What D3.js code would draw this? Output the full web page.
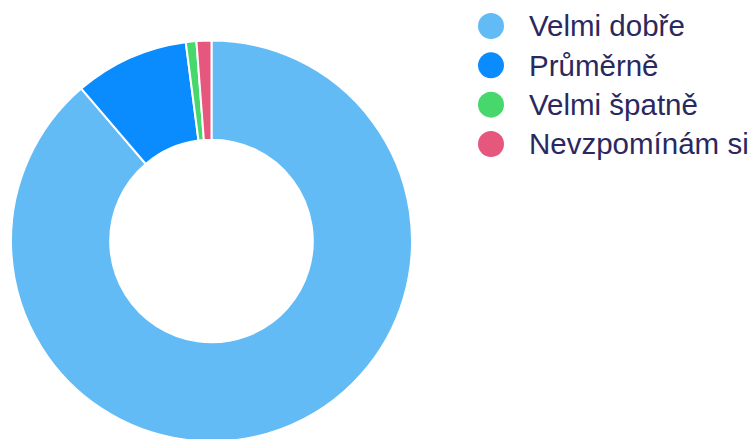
<!DOCTYPE html>
<html>
<head>
<meta charset="utf-8">
<script src="https://cdn.jsdelivr.net/npm/d3@7"></script>
<style>
html,body{margin:0;padding:0;background:#fff;}
svg{display:block;}
</style>
</head>
<body>
<svg id="chart" width="752" height="439"></svg>
<script>
const categories = ["Velmi dobře", "Průměrně", "Velmi špatně", "Nevzpomínám si"];
const values = [88.75, 9.2, 0.85, 1.2];
const colors = ["#63bbf6", "#0a8cff", "#47d86b", "#e6577e"];

const svg = d3.select("#chart");
const cx = 211.5, cy = 241, outerR = 200.5, innerR = 101.3;

const pie = d3.pie().sort(null).value(d => d.value);
const arc = d3.arc().innerRadius(innerR).outerRadius(outerR);
const data = categories.map((c, i) => ({name: c, value: values[i], color: colors[i]}));

svg.append("g")
  .attr("transform", `translate(${cx},${cy})`)
  .selectAll("path")
  .data(pie(data))
  .join("path")
  .attr("d", arc)
  .attr("fill", d => d.data.color)
  .attr("stroke", "#fff")
  .attr("stroke-width", 2);

const y = d3.scalePoint().domain(categories).range([26, 144]);
const legend = svg.append("g");
const items = legend.selectAll("g").data(data).join("g")
  .attr("transform", d => `translate(491,${y(d.name)})`);
items.append("circle").attr("r", 13).attr("fill", d => d.color);
items.append("text")
  .attr("x", 38)
  .attr("dy", "0.35em")
  .attr("font-family", "Liberation Sans, Arial, sans-serif")
  .attr("font-size", 29.5)
  .attr("fill", "#2a285e")
  .text(d => d.name);
</script>
</body>
</html>
